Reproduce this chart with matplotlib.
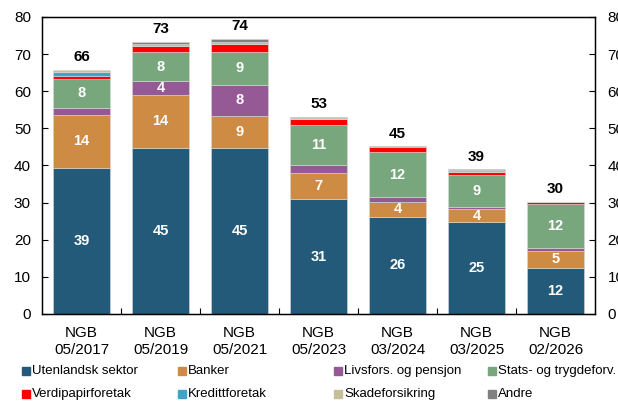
import numpy as np
import matplotlib.pyplot as plt
from matplotlib.patches import Rectangle

plt.rcParams['font.family'] = ['Liberation Sans', 'DejaVu Sans']

# categories and holdings (mrd. kroner)
labels = ['NGB\n05/2017', 'NGB\n05/2019', 'NGB\n05/2021', 'NGB\n05/2023',
          'NGB\n03/2024', 'NGB\n03/2025', 'NGB\n02/2026']
utenlandsk = [39.3, 44.7, 44.7, 30.9, 26.1, 24.7, 12.4]
banker = [14.3, 14.4, 8.7, 7.1, 4.1, 3.6, 4.6]
livsfors = [2.0, 3.6, 8.4, 2.2, 1.3, 0.6, 0.7]
stats = [7.7, 7.9, 8.7, 10.6, 12.0, 8.6, 12.0]
verdipapir = [0.9, 1.6, 2.1, 1.6, 1.4, 0.8, 0.4]
kreditt = [1.0, 0.0, 0.0, 0.0, 0.0, 0.0, 0.0]
skade = [0.4, 0.5, 0.7, 0.3, 0.2, 0.6, 0.1]
andre = [0.2, 0.6, 0.8, 0.4, 0.1, 0.1, 0.0]

series = [
    ('Utenlandsk sektor', utenlandsk, '#235a79'),
    ('Banker', banker, '#cd8b43'),
    ('Livsfors. og pensjon', livsfors, '#955a96'),
    ('Stats- og trygdeforv.', stats, '#78a77e'),
    ('Verdipapirforetak', verdipapir, '#ff0000'),
    ('Kredittforetak', kreditt, '#3fa4cc'),
    ('Skadeforsikring', skade, '#c8be9a'),
    ('Andre', andre, '#808080'),
]

fig = plt.figure(figsize=(6.18, 4.04), dpi=100)
ax = fig.add_axes([0.068, 0.223, 0.895, 0.735])

x = np.arange(len(labels))
bottom = np.zeros(len(labels))
for name, vals, col in series:
    vals = np.array(vals)
    ax.bar(x, vals, 0.72, bottom=bottom, color=col, edgecolor='#d8d8d8', linewidth=0.4)
    for xi, b, v in zip(x, bottom, vals):
        if v >= 3:
            ax.text(xi, b + v / 2, f'{v:.0f}', ha='center', va='center',
                    color='white', fontsize=10.5, fontweight='bold')
    bottom += vals

for xi, tot in zip(x, bottom):
    ax.annotate(f'{tot:.0f}', (xi, tot), xytext=(0, 4), textcoords='offset points',
                ha='center', va='bottom', fontsize=11, fontweight='bold')

ax.set_xlim(-0.5, len(labels) - 0.5)
ax.set_ylim(0, 80)
ax.set_yticks(range(0, 81, 10))
ax.set_xticks(x)
ax.set_xticklabels(labels, fontsize=11)
ax.set_xticks(x[:-1] + 0.5, minor=True)
ax.tick_params(axis='x', which='major', length=0, pad=9)
ax.tick_params(axis='x', which='minor', direction='in', length=4, width=0.8)
ax.tick_params(axis='y', direction='in', length=4, labelsize=11, pad=8)
for s in ax.spines.values():
    s.set_linewidth(1.0)

ax2 = ax.twinx()
ax2.set_ylim(0, 80)
ax2.set_yticks(range(0, 81, 10))
ax2.tick_params(axis='y', direction='in', length=4, labelsize=11, pad=9)

# legend in a fixed 4x2 grid as in the original
W, H = 618, 404
col_x = [22, 178, 334, 488]
row_y = [371, 394]
for i, (name, vals, col) in enumerate(series):
    px, py = col_x[i % 4], row_y[i // 4]
    fig.patches.append(Rectangle((px / W, 1 - (py + 4) / H), 8 / W, 8 / H,
                                 color=col, transform=fig.transFigure))
    fig.text((px + 10) / W, 1 - py / H, name, fontsize=9.5, va='center', ha='left')

fig.savefig('out.png', dpi=100)
